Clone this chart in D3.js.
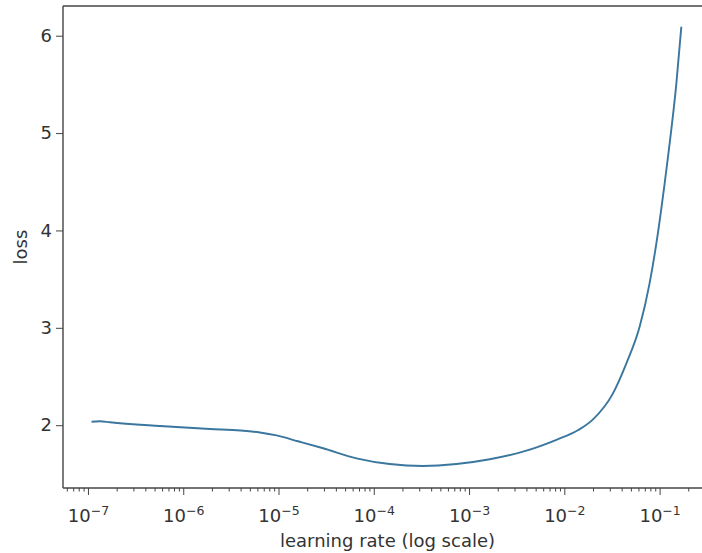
<!DOCTYPE html>
<html>
<head>
<meta charset="utf-8">
<script src="https://cdn.jsdelivr.net/npm/d3@7"></script>
<style>
  body { margin: 0; background: #fff; overflow: hidden; }
  svg { display: block; }
  text { font-family: "DejaVu Sans", sans-serif; fill: #333; }
  .axis path, .axis line { stroke: #444; }
</style>
</head>
<body>
<svg class="svg_lr" width="702" height="553"></svg>
<script>
// learning rate finder: values
var lrs = [1.09e-7, 1.34e-7, 1.70e-7, 5.69e-7, 1.91e-6, 4.0e-6, 6.37e-6, 9.55e-6, 1.60e-5,
           2.94e-5, 6.59e-5, 1.47e-4, 3.29e-4, 7.38e-4, 1.65e-3, 3.68e-3, 8.26e-3,
           1.40e-2, 2.00e-2, 3.24e-2, 4.48e-2, 6.17e-2, 7.85e-2, 9.59e-2, 0.113,
           0.125, 0.150, 0.169];
var losses = [2.036, 2.041, 2.030, 1.992, 1.961, 1.945, 1.925, 1.895, 1.835,
              1.763, 1.660, 1.601, 1.581, 1.601, 1.650, 1.728, 1.850,
              1.950, 2.060, 2.327, 2.635, 3.011, 3.457, 3.970, 4.483,
              4.825, 5.510, 6.091];

var xTickExps = [-7, -6, -5, -4, -3, -2, -1];
var yTicks = [2, 3, 4, 5, 6];

var data = lrs.map(function(d, i) { return {lr: d, loss: losses[i]}; });

// plot box (right edge falls outside the picture, like the reference)
var svg = d3.select(".svg_lr"),
    pLeft = 63, pRight = 712, pTop = 6, pBottom = 488;

// log x scale with matplotlib style 5% margins
var x = d3.scaleLog().domain([Math.pow(10, -7.262), Math.pow(10, -0.45)]).range([pLeft, pRight]);
var y = d3.scaleLinear().domain([1.355, 6.305]).range([pBottom, pTop]);

// the line
var line = d3.line()
    .x(function(d) { return x(d.lr); })
    .y(function(d) { return y(d.loss); })
    .curve(d3.curveMonotoneX);

svg.append("path")
    .datum(data)
    .attr("fill", "none")
    .attr("stroke", "#3a769e")
    .attr("stroke-width", 1.9)
    .attr("d", line);

// minor x ticks
var minors = x.ticks().filter(function(t) {
  var e = Math.log10(t);
  return Math.abs(e - Math.round(e)) > 1e-6;
});
svg.append("g")
    .attr("class", "axis")
    .attr("transform", "translate(0," + pBottom + ")")
    .call(d3.axisBottom(x).tickValues(minors).tickSize(3.5).tickFormat(""))
    .call(function(g) { g.select(".domain").remove(); });

// major x ticks
var majors = xTickExps.map(function(e) { return Math.pow(10, e); });
var xAxis = svg.append("g")
    .attr("class", "axis")
    .attr("transform", "translate(0," + pBottom + ")")
    .call(d3.axisBottom(x).tickValues(majors).tickSize(7).tickFormat(""));
xAxis.select(".domain").remove();

xAxis.selectAll(".tick").append("text")
    .attr("y", 34)
    .attr("text-anchor", "middle")
    .style("font-size", "18px")
    .each(function(d, i) {
      var t = d3.select(this);
      t.append("tspan").text("10");
      t.append("tspan").attr("dy", "-0.55em").style("font-size", "12.5px").text("\u2212" + Math.abs(xTickExps[i]));
    });

// y axis
var yAxis = svg.append("g")
    .attr("class", "axis")
    .attr("transform", "translate(" + pLeft + ",0)")
    .call(d3.axisLeft(y).tickValues(yTicks).tickSize(7).tickPadding(4).tickFormat(d3.format("d")));
yAxis.select(".domain").remove();
yAxis.selectAll(".tick text").style("font-size", "18px");

// spines: left, top, bottom (the right one is cropped off)
var spines = svg.append("g")
    .attr("stroke", "#444")
    .attr("stroke-width", 1.4);
spines.append("line").attr("x1", pLeft).attr("x2", pLeft).attr("y1", pTop).attr("y2", pBottom);
spines.append("line").attr("x1", pLeft).attr("x2", pRight).attr("y1", pTop).attr("y2", pTop);
spines.append("line").attr("x1", pLeft).attr("x2", pRight).attr("y1", pBottom).attr("y2", pBottom);

// axis labels
svg.append("text")
    .attr("x", (pLeft + pRight) / 2)
    .attr("y", 547)
    .attr("text-anchor", "middle")
    .style("font-size", "18px")
    .text("learning rate (log scale)");

svg.append("text")
    .attr("transform", "translate(27," + ((pTop + pBottom) / 2) + ") rotate(-90)")
    .attr("text-anchor", "middle")
    .style("font-size", "18px")
    .text("loss");
</script>
</body>
</html>
